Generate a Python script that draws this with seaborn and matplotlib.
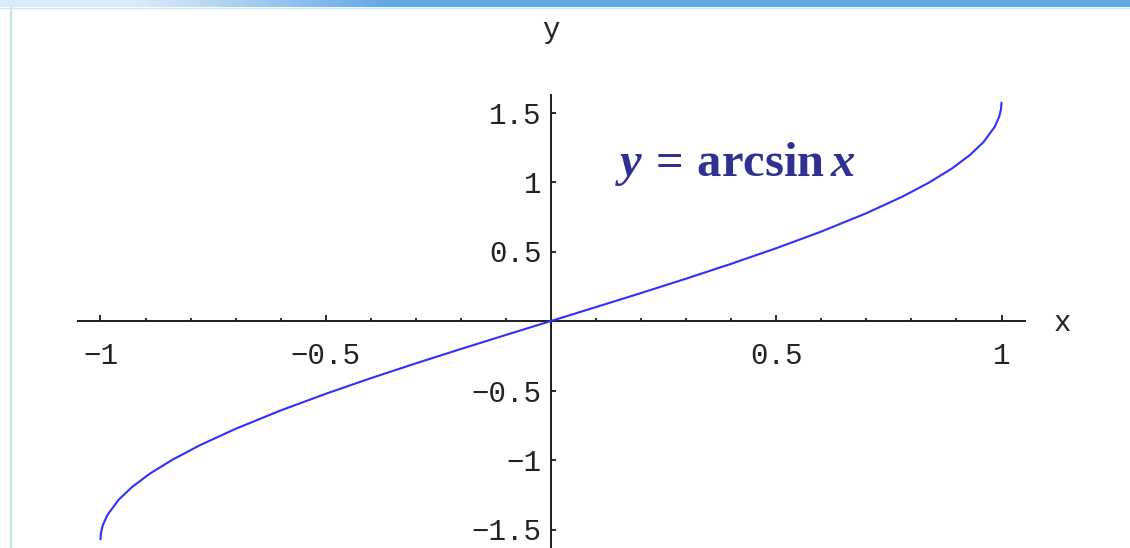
import numpy as np
import matplotlib
matplotlib.use("Agg")
import matplotlib.pyplot as plt
import seaborn as sns
from matplotlib.lines import Line2D

# Sampled points of y = arcsin x on [-1, 1]
x_vals = [-1.0, -0.999, -0.995, -0.985, -0.96, -0.93, -0.89, -0.84, -0.78, -0.70,
          -0.60, -0.50, -0.40, -0.30, -0.20, -0.10, 0.0,
          0.10, 0.20, 0.30, 0.40, 0.50, 0.60, 0.70, 0.78, 0.84, 0.89, 0.93,
          0.96, 0.985, 0.995, 0.999, 1.0]
y_vals = [-1.5708, -1.5261, -1.4706, -1.3973, -1.2870, -1.1944, -1.0973, -0.9973,
          -0.8947, -0.7754, -0.6435, -0.5236, -0.4115, -0.3047, -0.2014, -0.1002, 0.0,
          0.1002, 0.2014, 0.3047, 0.4115, 0.5236, 0.6435, 0.7754, 0.8947, 0.9973,
          1.0973, 1.1944, 1.2870, 1.3973, 1.4706, 1.5261, 1.5708]

x_major = [-1.0, -0.5, 0.5, 1.0]
x_major_labels = ["\u22121", "\u22120.5", "0.5", "1"]
x_minor = [-0.9, -0.8, -0.7, -0.6, -0.4, -0.3, -0.2, -0.1,
           0.1, 0.2, 0.3, 0.4, 0.6, 0.7, 0.8, 0.9]
y_major = [-1.5, -1.0, -0.5, 0.5, 1.0, 1.5]
y_major_labels = ["\u22121.5", "\u22121", "\u22120.5", "0.5", "1", "1.5"]

sns.set_style("white")
plt.rcParams["font.family"] = ["Liberation Mono", "DejaVu Sans Mono"]
plt.rcParams["mathtext.fontset"] = "custom"
plt.rcParams["mathtext.rm"] = "Liberation Serif:bold"
plt.rcParams["mathtext.bf"] = "Liberation Serif:bold"
plt.rcParams["mathtext.it"] = "Liberation Serif:italic:bold"

W, H = 1130, 548
fig = plt.figure(figsize=(W / 100, H / 100), dpi=100)
fig.patch.set_facecolor("white")

# pixel layout of the data frame
x0_px, x_scale = 551.0, 450.5
y0_px, y_scale = 321.0, 139.0

ax = fig.add_axes([0, 0, 1, 1])
ax.set_facecolor("none")
ax.set_xlim(-x0_px / x_scale, (W - x0_px) / x_scale)
ax.set_ylim((y0_px - H) / y_scale, y0_px / y_scale)

sns.lineplot(x=x_vals, y=y_vals, ax=ax, color="#2f2fff", linewidth=1.5,
             sort=False, estimator=None)

axis_color = "#1c1c1c"
for side in ["top", "right"]:
    ax.spines[side].set_visible(False)
ax.spines["left"].set_position(("data", 0))
ax.spines["bottom"].set_position(("data", 0))
ax.spines["bottom"].set_bounds((78 - x0_px) / x_scale, (1025 - x0_px) / x_scale)
ax.spines["left"].set_bounds((y0_px - H) / y_scale, (y0_px - 95) / y_scale)
for side in ["left", "bottom"]:
    ax.spines[side].set_color(axis_color)
    ax.spines[side].set_linewidth(1.4)
    ax.spines[side].set_zorder(1)

ax.set_xticks(x_major)
ax.set_xticklabels(x_major_labels)
ax.set_xticks(x_minor, minor=True)
ax.set_yticks(y_major)
ax.set_yticklabels(y_major_labels)

ax.tick_params(axis="x", which="both", bottom=True, top=False)
ax.tick_params(axis="y", which="both", left=True, right=False)
ax.tick_params(axis="x", which="major", direction="in", length=4.0, width=1.3,
               color=axis_color, labelsize=21, pad=15, labelcolor="#222222")
ax.tick_params(axis="x", which="minor", direction="in", length=2.5, width=1.3,
               color=axis_color)
ax.tick_params(axis="y", which="major", direction="in", length=3.5, width=1.3,
               color=axis_color, labelsize=21, pad=7, labelcolor="#222222")

ax.text(0, (y0_px - 30) / y_scale, "y", ha="center", va="center",
        fontsize=21, color="#222222")
ax.text((1062 - x0_px) / x_scale, (y0_px - 323) / y_scale, "x", ha="center",
        va="center", fontsize=21, color="#222222")

ax.text((615 - x0_px) / x_scale, (y0_px - 176) / y_scale,
        r"$y\,=\,\mathrm{arcsin}\,x$", ha="left", va="baseline",
        fontsize=35, color="#2e3192")

# slide frame: gradient band on top and thin rule on the left
band = fig.add_axes([0, 1 - 7 / H, 1, 7 / H])
t = np.clip((np.linspace(0, 1, 400) - 0.12) / 0.22, 0, 1)
light = np.array([0.86, 0.92, 0.97])
blue = np.array([0.39, 0.66, 0.91])
row = light[None, :] * (1 - t[:, None]) + blue[None, :] * t[:, None]
band.imshow(row[None, :, :], aspect="auto", extent=(0, 1, 0, 1))
band.set_axis_off()
fig.add_artist(Line2D([0, 1], [1 - 8 / H, 1 - 8 / H], transform=fig.transFigure,
                      color="#c9ecee", linewidth=1.0))
fig.add_artist(Line2D([11 / W, 11 / W], [0, 1 - 8 / H], transform=fig.transFigure,
                      color="#bfe4e6", linewidth=1.6))

fig.savefig("out.png", dpi=100)
